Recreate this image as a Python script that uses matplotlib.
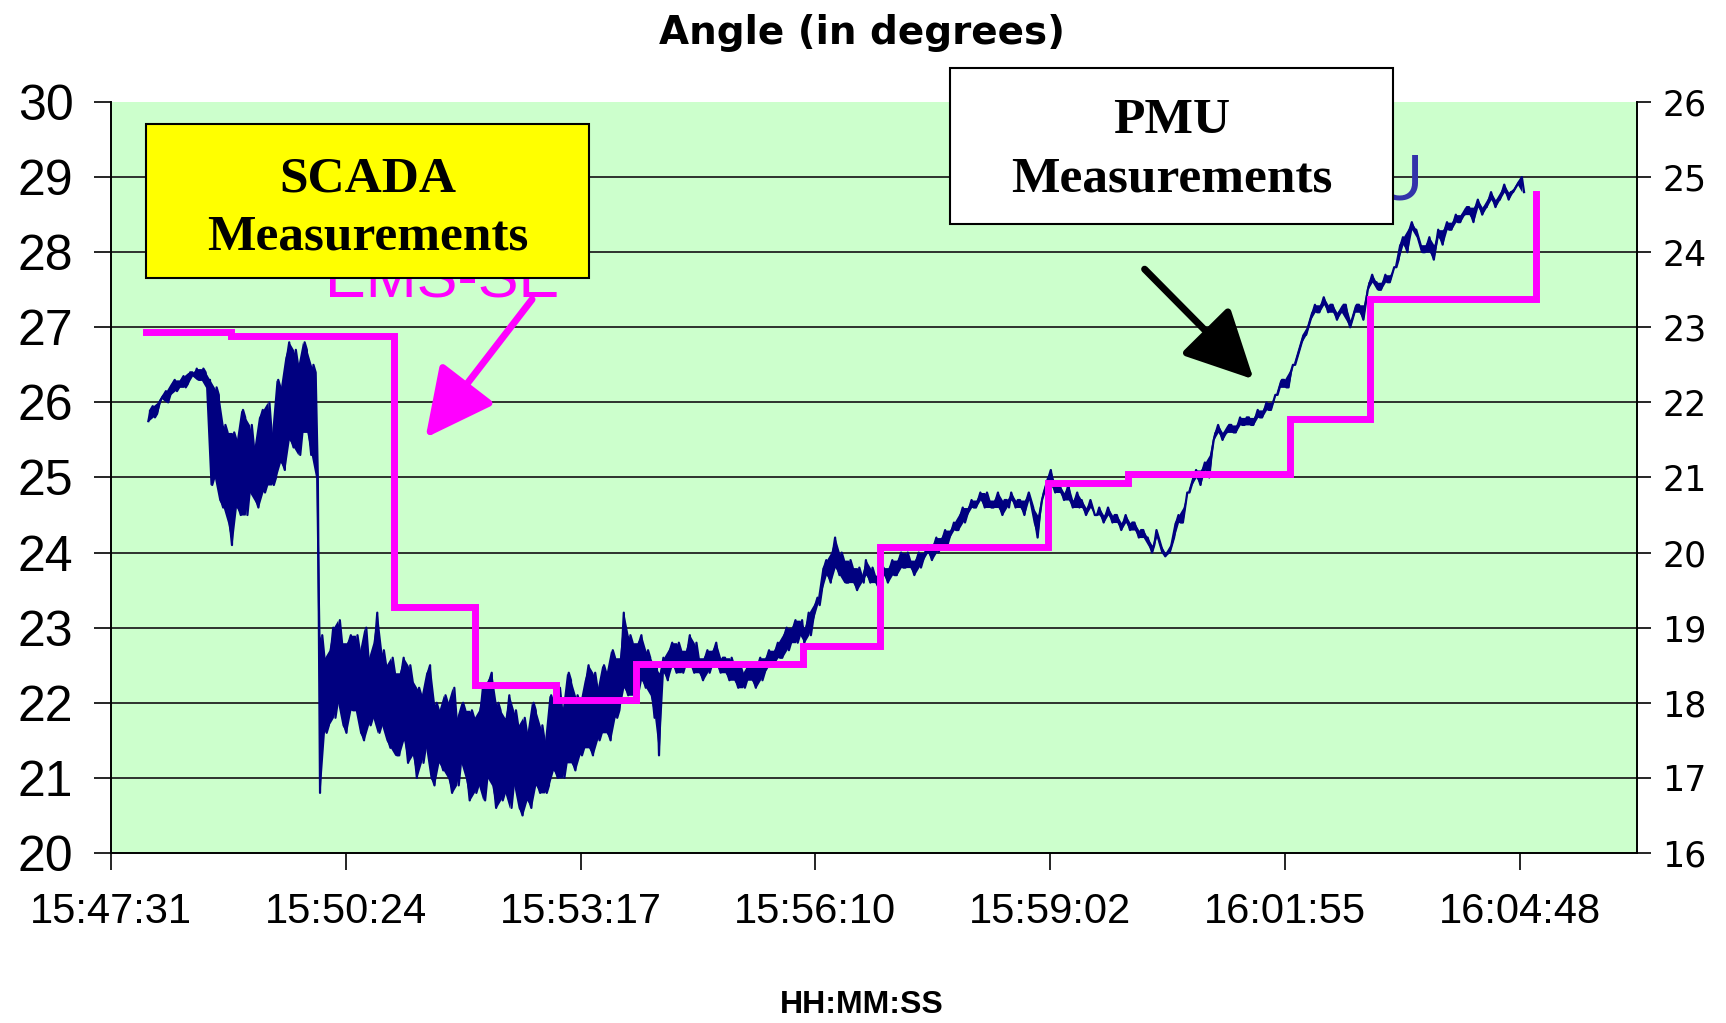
import matplotlib.pyplot as plt
import numpy as np
from matplotlib.patches import Rectangle

# x axis in seconds after 15:47:31, major unit 0.002 day (172.8 s) like Excel
tick_labels = ['15:47:31', '15:50:24', '15:53:17', '15:56:10',
               '15:59:02', '16:01:55', '16:04:48']
tick_step = 172.8
x_max = 6.5 * tick_step

# PMU angle (left axis, degrees). Two readings per
# sample step: pmu_a on the step, pmu_b half a step later.
pmu_t0 = 27.5
pmu_dt = 3.24
pmu_a = [
    25.75, 25.95, 25.85, 26.05, 26.15, 26.1, 26.3, 26.2, 26.35, 26.25, 26.4, 26.45, 26.3, 26.4,
    26.3, 25.0, 26.1, 24.6, 25.6, 24.1, 25.5, 24.5, 25.8, 24.8, 25.4, 24.6, 25.9, 24.9, 25.6,
    25.0, 26.2, 25.1, 26.8, 25.4, 26.5, 25.6, 26.7, 25.3, 26.4,
    20.8, 22.6, 21.7, 23.0, 22.0, 22.8, 21.6, 22.9, 21.9, 22.7, 21.5, 22.6, 21.8, 23.2, 21.7,
    22.5, 21.4, 22.4,
    21.3, 22.6, 21.2, 22.3, 21.0, 22.1, 21.4, 22.5, 20.9, 21.9, 21.1, 22.0, 20.8, 21.8, 21.2,
    21.9, 20.7,
    21.8, 20.9, 22.2, 21.0, 22.4, 20.6, 21.9, 20.8, 22.1, 20.9, 21.7, 20.5, 21.6, 20.6, 21.9,
    20.8, 21.5, 20.9,
    22.0, 21.0, 21.9, 21.2, 22.3, 21.1, 22.0, 21.4, 22.5, 21.3, 22.2, 21.6, 22.4, 21.5, 22.6,
    21.9, 23.2, 22.1, 22.8, 22.0, 22.9, 22.2, 22.6, 21.8, 21.3,
    22.6, 22.3, 22.8, 22.4, 22.7, 22.5, 22.9, 22.4, 22.6, 22.3, 22.7, 22.5, 22.8, 22.4, 22.6,
    22.3, 22.5, 22.2, 22.4, 22.3, 22.5, 22.2, 22.6, 22.4, 22.7,
    22.5, 22.8, 22.6, 23.0, 22.8, 23.1, 22.9, 22.8, 23.2, 23.1,
    23.4, 23.5, 23.9, 23.6, 24.2, 23.7, 23.9,
    23.6, 23.8, 23.5, 23.7, 23.9, 23.6, 23.7, 23.5,
    23.8, 23.6, 23.9, 23.7, 24.0, 23.8, 23.9, 23.7, 24.0, 23.9, 24.1, 23.9, 24.2, 24.1, 24.3,
    24.2, 24.4, 24.3, 24.6, 24.5, 24.7, 24.6, 24.8, 24.6, 24.7,
    24.6, 24.8, 24.5, 24.7, 24.8, 24.6, 24.7, 24.5, 24.8, 24.6, 24.2, 24.7,
    24.9, 25.1, 24.8, 24.9, 24.7, 24.9, 24.6, 24.8, 24.7, 24.5,
    24.7, 24.5, 24.6, 24.4, 24.6, 24.4, 24.5, 24.3, 24.5, 24.3, 24.4, 24.2, 24.3,
    24.2, 24.0, 24.3, 24.1, 23.95, 24.0,
    24.2, 24.5, 24.4, 24.8, 24.9, 25.1, 24.9, 25.2, 25.0,
    25.5, 25.7, 25.5, 25.6, 25.7, 25.6, 25.8, 25.7, 25.8, 25.7, 25.9, 25.8, 26.0, 25.9, 26.1,
    26.2, 26.3, 26.2, 26.5, 26.6, 26.8, 26.9,
    27.1, 27.3, 27.2, 27.4, 27.2, 27.3, 27.1, 27.2, 27.3, 27.0, 27.2, 27.3, 27.1,
    27.5, 27.7, 27.6, 27.5, 27.7, 27.6, 27.8,
    27.9, 28.2, 28.0, 28.4, 28.3,
    28.1, 28.0, 28.2, 27.9, 28.3, 28.1, 28.4, 28.3, 28.5, 28.4,
    28.5, 28.6, 28.4, 28.7, 28.5, 28.6, 28.8, 28.6, 28.7, 28.9, 28.7, 28.8, 28.9, 29.0,
]
pmu_b = [
    25.9, 25.8, 26.0, 26.1, 26.0, 26.25, 26.15, 26.3, 26.2, 26.4, 26.35, 26.3, 26.45, 26.2,
    24.9, 26.2, 24.7, 25.7, 24.4, 25.6, 24.6, 25.9, 24.5, 25.7, 24.7, 25.8, 24.8, 26.0, 24.9,
    26.3, 25.2, 26.6, 25.5, 26.7, 25.3, 26.8, 25.6, 26.5, 25.0,
    22.9, 21.6, 22.7, 21.8, 23.1, 21.7, 22.8, 21.9, 22.9, 21.6, 23.0, 21.7, 22.8, 21.6, 22.7,
    21.5, 22.6, 21.3,
    22.4, 21.5, 22.5, 21.3, 22.2, 21.2, 22.4, 21.0, 22.0, 21.2, 22.1, 21.0, 22.2, 20.9, 22.0,
    21.0, 21.9,
    20.8, 21.9, 20.7, 22.3, 20.9, 22.0, 20.7, 21.8, 20.6, 21.9, 20.6, 21.8, 20.7, 22.0, 20.9,
    21.7, 20.8, 22.1,
    21.1, 22.2, 21.0, 22.4, 21.2, 22.1, 21.3, 22.3, 21.4, 22.4, 21.5, 22.5, 21.6, 22.7, 21.8,
    22.6, 22.2, 22.9, 22.1, 22.8, 22.3, 22.7, 22.1, 22.5, 22.4,
    22.4, 22.7, 22.5, 22.8, 22.4, 22.7, 22.5, 22.8, 22.4, 22.6, 22.4, 22.7, 22.5, 22.6, 22.4,
    22.6, 22.3, 22.5, 22.2, 22.5, 22.3, 22.5, 22.3, 22.6, 22.5,
    22.7, 22.6, 22.9, 22.7, 23.0, 22.8, 23.1, 23.0, 22.9, 23.3,
    23.3, 23.8, 23.7, 24.0, 23.8, 24.0, 23.6,
    23.9, 23.6, 23.8, 23.6, 23.7, 23.8, 23.6, 23.7,
    23.7, 23.8, 23.7, 23.9, 23.8, 24.0, 23.8, 23.9, 23.8, 24.0, 24.0, 24.1, 24.0, 24.2, 24.1,
    24.3, 24.3, 24.5, 24.4, 24.6, 24.6, 24.7, 24.7, 24.8, 24.6,
    24.7, 24.6, 24.7, 24.6, 24.7, 24.7, 24.6, 24.7, 24.7, 24.4, 24.5, 24.8,
    25.0, 24.9, 24.9, 24.8, 24.8, 24.7, 24.7, 24.6, 24.6, 24.6,
    24.6, 24.5, 24.5, 24.5, 24.5, 24.5, 24.4, 24.4, 24.4, 24.4, 24.3, 24.3, 24.2,
    24.1, 24.1, 24.2, 24.0, 24.0, 24.1,
    24.4, 24.4, 24.6, 24.8, 25.0, 25.0, 25.1, 25.1, 25.3,
    25.6, 25.6, 25.6, 25.7, 25.6, 25.7, 25.7, 25.8, 25.7, 25.8, 25.8, 25.9, 25.9, 26.0, 26.1,
    26.3, 26.2, 26.4, 26.5, 26.7, 26.9, 27.0,
    27.2, 27.2, 27.3, 27.3, 27.3, 27.2, 27.2, 27.3, 27.1, 27.1, 27.3, 27.2, 27.3,
    27.6, 27.6, 27.5, 27.6, 27.6, 27.7, 27.8,
    28.1, 28.1, 28.3, 28.3, 28.2,
    28.0, 28.1, 28.0, 28.1, 28.2, 28.3, 28.3, 28.4, 28.4, 28.5,
    28.6, 28.5, 28.6, 28.6, 28.6, 28.7, 28.7, 28.7, 28.8, 28.8, 28.8, 28.85, 28.95, 28.8,
]

# SCADA / EMS-SE step values (left axis)
scada_t = [25.9, 88.3, 208.2, 268.1, 327.3, 386.4, 509.6, 566.3, 689.4,
           748.5, 867.6, 926.8, 1049.1]
scada_angle = [26.94, 26.88, 23.28, 22.24, 22.04, 22.52, 22.76, 24.08, 24.93,
               25.04, 25.78, 27.38, 28.77]

narrow = ['Liberation Sans Narrow', 'Liberation Sans', 'DejaVu Sans']
sans = ['Liberation Sans', 'DejaVu Sans']
serif = ['Liberation Serif', 'DejaVu Serif']
navy = '#000080'

fig = plt.figure(figsize=(17.26, 10.23), dpi=100)
ax = fig.add_axes([0.0643, 0.1662, 0.8842, 0.7341])
ax.set_facecolor('#CCFFCC')

n = min(len(pmu_a), len(pmu_b))
a = np.array(pmu_a[:n])
b = np.array(pmu_b[:n])
t = pmu_t0 + pmu_dt * np.arange(n)
# the fast PMU samples smear into a solid band between the two readings
ax.fill_between(t, np.minimum(a, b), np.maximum(a, b), color=navy, lw=0, zorder=3)
pmu_angle = np.column_stack([a, b]).ravel()
pmu_t = pmu_t0 + pmu_dt / 2 * np.arange(len(pmu_angle))
ax.plot(pmu_t, pmu_angle, color=navy, lw=1.6, zorder=3)
ax.step(scada_t, scada_angle, where='post', color='#FF00FF', lw=5,
        solid_joinstyle='miter', zorder=4)

ax.set_xlim(0, x_max)
ax.set_ylim(20, 30)
ax.set_xticks(tick_step * np.arange(len(tick_labels)))
ax.set_xticklabels(tick_labels, family=narrow, fontsize=30)
ax.set_yticks(np.arange(20, 31))
ax.set_yticklabels([str(v) for v in range(20, 31)], family=sans, fontsize=36)
ax.tick_params(axis='x', length=12, width=1.2, pad=16)
ax.tick_params(axis='y', length=12, width=1.2, pad=15)
for v in range(21, 30):
    ax.axhline(v, color='#222222', lw=1.3, zorder=1)

ax.spines['top'].set_visible(False)
ax.spines['right'].set_visible(False)
for s in ['left', 'bottom']:
    ax.spines[s].set_linewidth(1.4)

ax2 = ax.twinx()
ax2.set_ylim(16, 26)
ax2.set_yticks(np.arange(16, 27))
ax2.set_yticklabels([str(v) for v in range(16, 27)], family=['DejaVu Sans'], fontsize=25)
ax2.tick_params(axis='y', length=10, width=1.2, pad=8)
for s in ['top', 'left', 'bottom']:
    ax2.spines[s].set_visible(False)
ax2.spines['right'].set_linewidth(1.4)

fig.text(0.4994, 0.968, 'Angle (in degrees)', ha='center', va='center',
         family=['DejaVu Sans'], fontsize=28, fontweight='bold')
fig.text(0.4994, 0.018, 'HH:MM:SS', ha='center', va='center',
         family=narrow, fontsize=23, fontweight='bold')

# half-hidden series labels behind the boxes
ax.text(0.140, 0.740, 'EMS-SE', transform=ax.transAxes, color='#FF00FF',
        family=sans, fontsize=44, va='baseline', ha='left', zorder=5)
ax.text(0.860, 0.870, 'PMU', transform=ax.transAxes, color='#3333AA',
        family=narrow, fontsize=46, va='baseline', ha='right', zorder=5,
        clip_on=False)

# annotation boxes
ax.add_patch(Rectangle((0.0231, 0.7654), 0.29, 0.2053, transform=ax.transAxes,
                       facecolor='#FFFF00', edgecolor='black', lw=1.5, zorder=6))
ax.text(0.168, 0.8974, 'SCADA', transform=ax.transAxes, ha='center', va='center',
        family=serif, fontsize=37, fontweight='bold', zorder=7)
ax.text(0.168, 0.8196, 'Measurements', transform=ax.transAxes, ha='center', va='center',
        family=serif, fontsize=37, fontweight='bold', zorder=7)
ax.add_patch(Rectangle((0.5498, 0.8372), 0.29, 0.2083, transform=ax.transAxes,
                       facecolor='white', edgecolor='black', lw=1.5, zorder=6,
                       clip_on=False))
ax.text(0.6948, 0.9745, 'PMU', transform=ax.transAxes, ha='center', va='center',
        family=serif, fontsize=37, fontweight='bold', zorder=7, clip_on=False)
ax.text(0.6948, 0.8968, 'Measurements', transform=ax.transAxes, ha='center', va='center',
        family=serif, fontsize=37, fontweight='bold', zorder=7, clip_on=False)

ax.annotate('', xy=(0.205, 0.550), xytext=(0.277, 0.740), xycoords='axes fraction',
            arrowprops=dict(arrowstyle='-|>,head_length=1.4,head_width=0.7',
                            color='#FF00FF', lw=5, mutation_scale=30), zorder=8)
ax.annotate('', xy=(0.750, 0.628), xytext=(0.676, 0.780), xycoords='axes fraction',
            arrowprops=dict(arrowstyle='-|>,head_length=1.4,head_width=0.7',
                            color='black', lw=5, mutation_scale=30), zorder=8)

fig.savefig('out.png', dpi=100)
